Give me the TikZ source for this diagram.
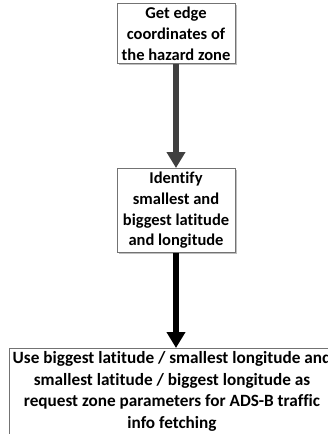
\documentclass[tikz,border=0pt]{standalone}
\usepackage{fontspec}
\setmainfont[Ligatures={NoCommon}]{Carlito}
\usetikzlibrary{arrows.meta,shadows}
\begin{document}
\begin{tikzpicture}[x=1pt,y=1pt,
  box/.style={draw=black!55, line width=0.8pt, fill=white, align=center,
    font=\bfseries\fontsize{16.5}{20.8}\selectfont, inner xsep=3pt, inner ysep=3.5pt,
    drop shadow={shadow xshift=1.5pt, shadow yshift=-1.5pt, fill=black!25, opacity=1}},
  flow/.style={line width=6pt, -{Triangle[width=18pt,length=16pt]}}]
\useasboundingbox[fill=white] (0,0) rectangle (328,-434);
\node[box, minimum width=118pt, anchor=north] (b1) at (176,-3)
  {Get edge\\coordinates of\\the hazard zone};
\node[box, minimum width=118pt, anchor=north] (b2) at (176,-168)
  {Identify\\smallest and\\biggest latitude\\and longitude};
\node[box, font=\bfseries\fontsize{17.2}{21.5}\selectfont, minimum width=320pt, anchor=north] (b3) at (172,-348)
  {Use biggest latitude / smallest longitude and\\smallest latitude / biggest longitude as\\request zone parameters for ADS-B traffic\\info fetching};
\draw[flow, draw=black!75, fill=black!75] (b1.south) -- (b2.north);
\draw[flow, draw=black] (b2.south) -- (b3.north -| b2.south);
\end{tikzpicture}
\end{document}
